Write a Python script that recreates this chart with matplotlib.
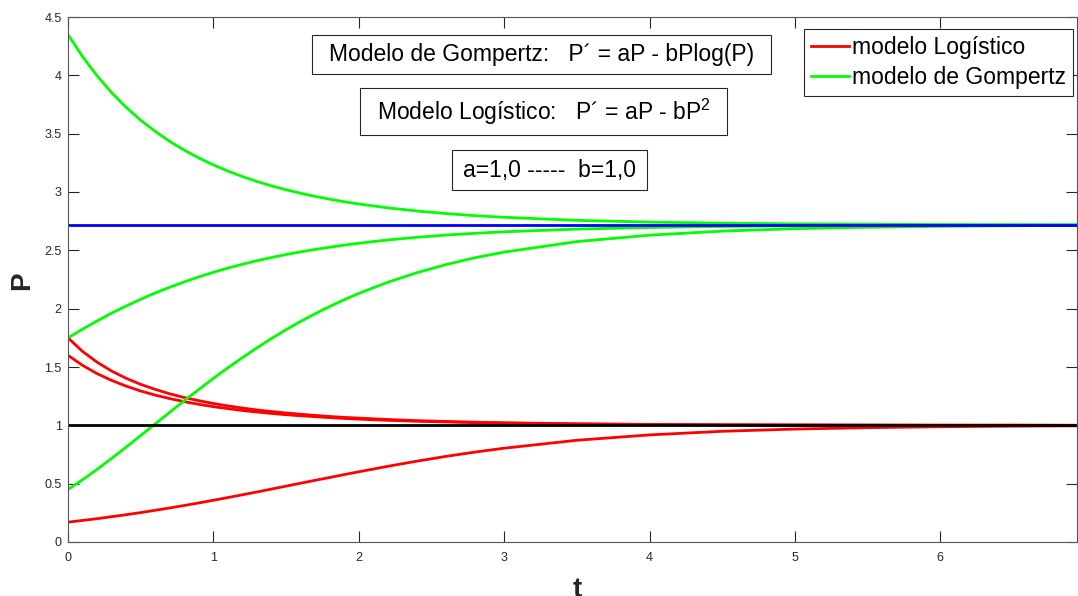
import matplotlib
matplotlib.use("Agg")
import matplotlib.pyplot as plt
from matplotlib.patches import Rectangle
from matplotlib.lines import Line2D

# ---- data ----
t = [0.0, 0.1, 0.2, 0.3, 0.4, 0.5, 0.6, 0.7, 0.8, 0.9, 1.0, 1.1, 1.2, 1.3, 1.4, 1.5,
     1.6, 1.7, 1.8, 1.9, 2.0, 2.2, 2.4, 2.6, 2.8, 3.0,
     3.5, 4.0, 4.5, 5.0, 5.5, 6.0, 6.5, 7.0]

gompertz_high = [4.350, 4.160, 3.995, 3.851, 3.725, 3.615, 3.519, 3.433, 3.358, 3.291,
                 3.232, 3.179, 3.132, 3.090, 3.052, 3.019, 2.989, 2.962, 2.938, 2.916,
                 2.897, 2.864, 2.837, 2.815, 2.797, 2.783,
                 2.757, 2.742, 2.733, 2.727, 2.724, 2.721, 2.720, 2.719]
gompertz_mid = [1.750, 1.825, 1.895, 1.962, 2.023, 2.081, 2.135, 2.184, 2.230, 2.273,
                2.312, 2.348, 2.381, 2.411, 2.439, 2.464, 2.487, 2.508, 2.527, 2.545,
                2.561, 2.589, 2.612, 2.631, 2.646, 2.659,
                2.682, 2.696, 2.705, 2.710, 2.713, 2.715, 2.716, 2.717]
gompertz_low = [0.450, 0.534, 0.623, 0.717, 0.814, 0.913, 1.013, 1.113, 1.212, 1.308,
                1.403, 1.494, 1.581, 1.665, 1.745, 1.820, 1.891, 1.957, 2.019, 2.077,
                2.131, 2.227, 2.309, 2.378, 2.437, 2.485,
                2.575, 2.630, 2.665, 2.686, 2.698, 2.706, 2.711, 2.714]

logistic_a = [1.750, 1.633, 1.541, 1.465, 1.403, 1.351, 1.308, 1.270, 1.238, 1.211,
              1.187, 1.166, 1.148, 1.132, 1.118, 1.106, 1.095, 1.085, 1.076, 1.068,
              1.062, 1.050, 1.040, 1.033, 1.027, 1.022,
              1.013, 1.008, 1.005, 1.003, 1.002, 1.001, 1.001, 1.000]
logistic_b = [1.600, 1.514, 1.443, 1.385, 1.336, 1.294, 1.259, 1.229, 1.203, 1.180,
              1.160, 1.143, 1.127, 1.114, 1.102, 1.091, 1.082, 1.074, 1.066, 1.059,
              1.053, 1.043, 1.035, 1.029, 1.023, 1.019,
              1.011, 1.007, 1.004, 1.003, 1.002, 1.001, 1.001, 1.000]
logistic_c = [0.170, 0.185, 0.200, 0.217, 0.234, 0.252, 0.272, 0.292, 0.313, 0.335,
              0.358, 0.381, 0.405, 0.429, 0.454, 0.479, 0.504, 0.529, 0.553, 0.578,
              0.602, 0.649, 0.693, 0.734, 0.771, 0.804,
              0.872, 0.918, 0.949, 0.968, 0.980, 0.988, 0.993, 0.996]

equilibrium_gompertz = 2.718
equilibrium_logistic = 1.0

x_ticks = [0, 1, 2, 3, 4, 5, 6]
y_ticks = [0, 0.5, 1, 1.5, 2, 2.5, 3, 3.5, 4, 4.5]
y_tick_labels = ["0", "0.5", "1", "1.5", "2", "2.5", "3", "3.5", "4", "4.5"]

legend_labels = ["modelo Logístico", "modelo de Gompertz"]
box_texts = ["Modelo de Gompertz:   P\u00b4 = aP - bPlog(P)",
             "Modelo Logístico:   P\u00b4 = aP - bP$^2$",
             "a=1,0 -----  b=1,0"]

# ---- figure ----
plt.rcParams['font.family'] = ['Liberation Sans', 'DejaVu Sans']
plt.rcParams['mathtext.fontset'] = 'custom'
plt.rcParams['mathtext.rm'] = 'Liberation Sans'

W, H = 1078, 596
fig = plt.figure(figsize=(W / 100, H / 100), dpi=100)
fig.patch.set_facecolor('white')

L, R, T, B = 68, 1077, 17, 542
ax = fig.add_axes([L / W, 1 - B / H, (R - L) / W, (B - T) / H])

RED = (1, 0, 0)
GREEN = (0, 1, 0)
lw = 2.0
kw = dict(lw=lw, solid_joinstyle='round', solid_capstyle='butt')
ax.plot(t, logistic_a, color=RED, **kw)
ax.plot(t, logistic_b, color=RED, **kw)
ax.plot(t, logistic_c, color=RED, **kw)
ax.plot(t, gompertz_high, color=GREEN, **kw)
ax.plot(t, gompertz_mid, color=GREEN, **kw)
ax.plot(t, gompertz_low, color=GREEN, **kw)
ax.axhline(equilibrium_gompertz, color=(0, 0, 1), lw=lw)
ax.axhline(equilibrium_logistic, color='black', lw=lw)

ax.set_xlim(0, 6.94)
ax.set_ylim(0, 4.5)
ax.set_xticks(x_ticks)
ax.set_xticklabels([str(v) for v in x_ticks])
ax.set_yticks(y_ticks)
ax.set_yticklabels(y_tick_labels)

axis_col = '#555555'
for s in ax.spines.values():
    s.set_color(axis_col)
    s.set_linewidth(0.8)
ax.tick_params(direction='in', length=8, width=0.8, color='#262626',
               labelcolor='#262626', labelsize=9, top=True, right=True)
ax.tick_params(axis='x', pad=7)
ax.tick_params(axis='y', pad=4.5)

fig.text(577 / W, 1 - 577 / H, "t", fontsize=20, fontweight='bold',
         ha='center', va='top', color='#262626')
fig.text(22 / W, 1 - 281 / H, "P", fontsize=20, fontweight='bold',
         ha='center', va='center', rotation=90, color='#262626')

# text boxes (pixel extents)
boxes = [(312, 771, 35, 74), (360, 727, 88, 135), (452, 647, 150, 190)]
for (x0, x1, y0, y1), txt in zip(boxes, box_texts):
    fig.patches.append(Rectangle((x0 / W, 1 - y1 / H), (x1 - x0) / W, (y1 - y0) / H,
                                 transform=fig.transFigure, fill=True, facecolor='white',
                                 edgecolor='#262626', lw=0.8, zorder=5))
    fig.text((x0 + x1) / 2 / W, 1 - (y0 + y1) / 2 / H, txt, fontsize=16.5,
             ha='center', va='center', color='black', zorder=6)

handles = [Line2D([], [], color=RED, lw=lw), Line2D([], [], color=GREEN, lw=lw)]
leg = ax.legend(handles, legend_labels, loc='upper right',
                bbox_to_anchor=(1073 / W, 1 - 29 / H), bbox_transform=fig.transFigure,
                fontsize=16.5, frameon=True, fancybox=False, framealpha=1,
                edgecolor='#262626', borderpad=0.29, handlelength=1.65,
                handletextpad=0.15, labelspacing=0.33, borderaxespad=0)
leg.get_frame().set_linewidth(0.8)

fig.savefig("out.png", dpi=100)
